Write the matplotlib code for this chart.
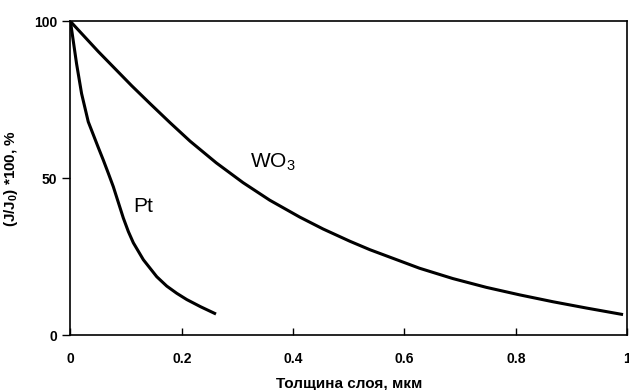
import matplotlib
matplotlib.use("Agg")
import matplotlib.pyplot as plt

# thickness (um) vs relative current (J/J0)*100, %
pt_x = [0, 0.011, 0.020, 0.032, 0.050, 0.059, 0.068, 0.077, 0.086, 0.095,
        0.104, 0.113, 0.131, 0.155, 0.173, 0.191, 0.209, 0.234, 0.259]
pt_y = [100, 86.5, 77.0, 68.0, 59.8, 55.8, 51.6, 47.3, 42.3, 37.3,
        33.0, 29.4, 24.0, 18.6, 15.6, 13.3, 11.3, 9.0, 6.9]

wo3_x = [0, 0.050, 0.110, 0.143, 0.179, 0.215, 0.262, 0.310, 0.358, 0.412,
         0.454, 0.502, 0.538, 0.627, 0.687, 0.747, 0.807, 0.867, 0.927, 0.990]
wo3_y = [100, 90.4, 79.5, 73.8, 67.7, 61.8, 54.9, 48.6, 43.0, 37.6,
         33.8, 29.9, 27.2, 21.3, 18.0, 15.2, 12.8, 10.6, 8.6, 6.6]

x_ticks = [0, 0.2, 0.4, 0.6, 0.8, 1.0]
x_labels = ["0", "0.2", "0.4", "0.6", "0.8", "1"]
y_ticks = [0, 50, 100]

plt.rcParams.update({
    "font.family": ["Liberation Sans", "DejaVu Sans"],
    "mathtext.fontset": "custom",
    "mathtext.rm": "Liberation Sans",
    "mathtext.it": "Liberation Sans",
    "mathtext.bf": "Liberation Sans:bold",
})

fig = plt.figure(figsize=(6.29, 3.90), dpi=100)
ax = fig.add_axes([0.112, 0.141, 0.885, 0.804])

ax.plot(pt_x, pt_y, color="black", lw=2.2, solid_joinstyle="round")
ax.plot(wo3_x, wo3_y, color="black", lw=2.2, solid_joinstyle="round")

ax.text(0.113, 41, "Pt", fontsize=15, va="center", ha="left")
ax.text(0.322, 55, "WO$_\\mathrm{3}$", fontsize=15, va="center", ha="left")

ax.set_xlim(0, 1)
ax.set_ylim(0, 100)
ax.set_xticks(x_ticks)
ax.set_xticklabels(x_labels)
ax.set_yticks(y_ticks)
ax.tick_params(axis="x", direction="in", length=5, width=1, pad=12)
ax.tick_params(axis="y", direction="out", length=6, width=1)
for lab in ax.get_xticklabels() + ax.get_yticklabels():
    lab.set_fontweight("bold")
    lab.set_fontsize(10)
for s in ax.spines.values():
    s.set_linewidth(1.2)

ax.set_xlabel("Толщина слоя, мкм", fontweight="bold", fontsize=11, labelpad=8)
ax.set_ylabel("(J/J$_\\mathbf{0}$) *100, %", fontweight="bold", fontsize=11)
ax.yaxis.set_label_coords(-0.091, 0.5)

fig.savefig("out.png", dpi=100)
